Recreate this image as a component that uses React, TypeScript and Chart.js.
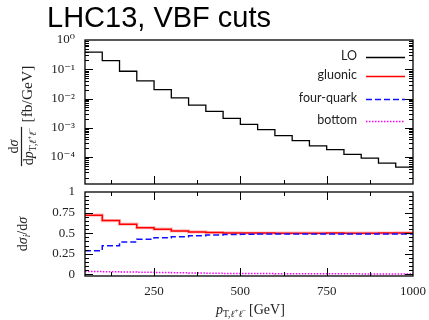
import React, { useEffect, useRef } from 'react';
import { Chart, registerables } from 'chart.js';

Chart.register(...registerables);

// ---------- data ----------
const titleText = 'LHC13, VBF cuts';
const binEdges = [50, 100, 150, 200, 250, 300, 350, 400, 450, 500, 550, 600, 650, 700, 750, 800, 850, 900, 950, 1000];
const loValues = [0.384, 0.198, 0.0855, 0.0398, 0.0200, 0.0106, 0.00597, 0.00363, 0.00209, 0.00130, 0.00087, 0.000543, 0.000366, 0.000240, 0.000180, 0.000124, 0.0000925, 0.0000624, 0.0000454];
const gluonicRatio = [0.719, 0.653, 0.609, 0.567, 0.548, 0.527, 0.515, 0.507, 0.503, 0.502, 0.501, 0.500, 0.500, 0.500, 0.501, 0.500, 0.500, 0.501, 0.503];
const fourQuarkRatio = [0.286, 0.347, 0.392, 0.425, 0.445, 0.457, 0.469, 0.478, 0.484, 0.487, 0.489, 0.490, 0.490, 0.491, 0.491, 0.490, 0.491, 0.490, 0.490];
const bottomRatio = [0.034, 0.032, 0.028, 0.025, 0.021, 0.018, 0.015, 0.013, 0.011, 0.010, 0.009, 0.008, 0.007, 0.007, 0.006, 0.006, 0.005, 0.005, 0.005];
const seriesNames = ['LO', 'gluonic', 'four-quark', 'bottom'];
const xTickLabels = [250, 500, 750, 1000];
const xMinorTicks = [125, 375, 625, 875];
const logTickValues = [1, 0.1, 0.01, 0.001, 0.0001];
const ratioTickLabels = [0, 0.25, 0.5, 0.75, 1];

// ---------- styling ----------
const SERIF = "'Liberation Serif', 'DejaVu Serif', serif";
const SANS = "'Liberation Sans', Arial, sans-serif";
const LEGEND_FONT = "12.5px Lato, 'Open Sans', sans-serif";
const TEXT = '#222';
const seriesStyles = [
  { color: '#000000', dash: [] as number[], width: 1.3 },
  { color: '#ff0000', dash: [] as number[], width: 1.5 },
  { color: '#1010ff', dash: [6, 3], width: 1.5 },
  { color: '#ff00ff', dash: [1.5, 1.5], width: 1.5 },
];

const steps = (vals: number[]) =>
  binEdges.map((e, i) => ({ x: e, y: vals[Math.min(i, vals.length - 1)] }));

const SUP: Record<string, string> = { '-': '⁻', '0': '⁰', '1': '¹', '2': '²', '3': '³', '4': '⁴', '5': '⁵', '6': '⁶', '7': '⁷', '8': '⁸', '9': '⁹' };
const sup = (n: number) => String(n).split('').map((c) => SUP[c] || c).join('');

type Run = { t: string; f: string; dy?: number };
function runsWidth(ctx: CanvasRenderingContext2D, runs: Run[]) {
  let w = 0;
  for (const r of runs) { ctx.font = r.f; w += ctx.measureText(r.t).width; }
  return w;
}
function drawRuns(ctx: CanvasRenderingContext2D, runs: Run[], x: number, y: number) {
  let cx = x;
  for (const r of runs) {
    ctx.font = r.f;
    ctx.fillText(r.t, cx, y + (r.dy || 0));
    cx += ctx.measureText(r.t).width;
  }
}
const f = (size: number, italic = false) => `${italic ? 'italic ' : ''}${size}px ${SERIF}`;

type TickSpec = { v: number; len: number };
function drawFrameTicks(chart: any, xt: TickSpec[], yt: TickSpec[], xBottom: boolean, xTop: boolean) {
  const { ctx, chartArea: a, scales } = chart;
  ctx.save();
  ctx.strokeStyle = '#000';
  ctx.lineWidth = 1;
  ctx.beginPath();
  for (const t of xt) {
    const px = Math.round(scales.x.getPixelForValue(t.v)) + 0.5;
    if (px <= a.left + 1 || px >= a.right - 1) continue;
    if (xBottom) { ctx.moveTo(px, a.bottom); ctx.lineTo(px, a.bottom - t.len); }
    if (xTop) { ctx.moveTo(px, a.top); ctx.lineTo(px, a.top + t.len); }
  }
  for (const t of yt) {
    const py = Math.round(scales.y.getPixelForValue(t.v)) + 0.5;
    if (py <= a.top + 1 || py >= a.bottom - 1) continue;
    ctx.moveTo(a.left, py); ctx.lineTo(a.left + t.len, py);
    ctx.moveTo(a.right, py); ctx.lineTo(a.right - t.len, py);
  }
  ctx.stroke();
  ctx.lineWidth = 1.3;
  ctx.strokeRect(a.left, a.top, a.width, a.height);
  ctx.restore();
}

const xTickSpecs: TickSpec[] = [
  ...xTickLabels.map((v) => ({ v, len: 8 })),
  ...xMinorTicks.map((v) => ({ v, len: 4 })),
];

const noPad = (s: any) => { s.paddingTop = 0; s.paddingBottom = 0; s.paddingLeft = 0; s.paddingRight = 0; };

const upperDecor = {
  id: 'upperDecor',
  afterDraw(chart: any) {
    const ctx: CanvasRenderingContext2D = chart.ctx;
    const yt: TickSpec[] = [];
    for (let e = -5; e <= 0; e++) {
      yt.push({ v: Math.pow(10, e), len: 8 });
      for (let k = 2; k <= 9; k++) yt.push({ v: k * Math.pow(10, e), len: 4 });
    }
    drawFrameTicks(chart, xTickSpecs, yt, true, false);

    ctx.save();
    // title
    ctx.fillStyle = '#000';
    ctx.font = `29px ${SANS}`;
    ctx.textAlign = 'left';
    ctx.textBaseline = 'alphabetic';
    ctx.fillText(titleText, 47, 27);

    // legend
    const ly = [55.5, 75, 97.5, 119.5];
    seriesNames.forEach((name, i) => {
      const s = seriesStyles[i];
      ctx.font = LEGEND_FONT;
      ctx.fillStyle = TEXT;
      ctx.textAlign = 'right';
      ctx.textBaseline = 'middle';
      ctx.fillText(name, 357, ly[i]);
      ctx.beginPath();
      ctx.strokeStyle = s.color;
      ctx.lineWidth = s.width;
      ctx.setLineDash(s.dash);
      ctx.moveTo(366, Math.round(ly[i] + 1) + 0.5);
      ctx.lineTo(405, Math.round(ly[i] + 1) + 0.5);
      ctx.stroke();
      ctx.setLineDash([]);
    });

    // y title
    ctx.translate(21.5, 146.5);
    ctx.rotate(-Math.PI / 2);
    ctx.fillStyle = TEXT;
    ctx.textAlign = 'left';
    ctx.textBaseline = 'alphabetic';
    const num: Run[] = [{ t: 'd', f: f(14) }, { t: 'σ', f: f(14, true) }];
    const den: Run[] = [
      { t: 'd', f: f(14) }, { t: 'p', f: f(14, true) },
      { t: 'T,', f: f(9.5), dy: 3 }, { t: 'ℓ', f: f(9.5, true), dy: 3 }, { t: '+', f: f(7), dy: -1 },
      { t: 'ℓ', f: f(9.5, true), dy: 3 }, { t: '−', f: f(7), dy: -1 },
    ];
    const wn = runsWidth(ctx, num);
    const wd = runsWidth(ctx, den);
    const bar = Math.max(wn, wd) + 2;
    drawRuns(ctx, num, -wn / 2, -4);
    ctx.fillRect(-bar / 2, -0.6, bar, 1.2);
    drawRuns(ctx, den, -wd / 2, 11.5);
    drawRuns(ctx, [{ t: '[fb/GeV]', f: f(15.5) }], 24, 10);
    ctx.restore();
  },
};

const lowerDecor = {
  id: 'lowerDecor',
  afterDraw(chart: any) {
    const ctx: CanvasRenderingContext2D = chart.ctx;
    const yt: TickSpec[] = [];
    for (let k = 0; k <= 20; k++) yt.push({ v: k * 0.05, len: k % 5 === 0 ? 8 : 4 });
    drawFrameTicks(chart, xTickSpecs, yt, true, true);

    ctx.save();
    ctx.fillStyle = TEXT;
    ctx.textAlign = 'left';
    ctx.textBaseline = 'alphabetic';
    // x title
    const xt: Run[] = [
      { t: 'p', f: f(14, true) },
      { t: 'T,', f: f(9.5), dy: 3 }, { t: 'ℓ', f: f(9.5, true), dy: 3 }, { t: '+', f: f(7), dy: -1 },
      { t: 'ℓ', f: f(9.5, true), dy: 3 }, { t: '−', f: f(7), dy: -1 },
      { t: '\u2009[GeV]', f: f(14) },
    ];
    drawRuns(ctx, xt, 216, 127.5);
    // y title
    ctx.translate(22, 234 - 186);
    ctx.rotate(-Math.PI / 2);
    const yr: Run[] = [
      { t: 'd', f: f(14) }, { t: 'σ', f: f(14, true) }, { t: 'i', f: f(9.5, true), dy: 3 },
      { t: '/d', f: f(14) }, { t: 'σ', f: f(14, true) },
    ];
    const wy = runsWidth(ctx, yr);
    drawRuns(ctx, yr, -wy / 2, 4.5);
    ctx.restore();
  },
};

const tickFont = { family: SERIF, size: 13 };

export default function App() {
  const upRef = useRef<HTMLCanvasElement>(null);
  const loRef = useRef<HTMLCanvasElement>(null);

  useEffect(() => {
    const up = new Chart(upRef.current!, {
      type: 'line',
      data: {
        datasets: [
          {
            label: seriesNames[0],
            data: steps(loValues),
            stepped: 'before',
            borderColor: seriesStyles[0].color,
            borderWidth: seriesStyles[0].width,
            pointRadius: 0,
            fill: false,
          },
        ],
      },
      options: {
        animation: false,
        responsive: false,
        layout: { padding: { left: 0, right: 16, top: 40, bottom: 4 } },
        plugins: { legend: { display: false }, tooltip: { enabled: false }, title: { display: false } },
        scales: {
          x: { type: 'linear', min: 50, max: 1000, display: false },
          y: {
            type: 'logarithmic',
            min: 1.2e-5,
            max: 1,
            afterBuildTicks: (s: any) => { s.ticks = logTickValues.map((value) => ({ value })); },
            afterFit: (s: any) => { s.width = 85; noPad(s); },
            ticks: {
              autoSkip: false,
              padding: 10,
              font: tickFont,
              color: TEXT,
              callback: (v: any) => '10' + sup(Math.round(Math.log10(Number(v)))),
            },
            grid: { display: false, drawTicks: false },
            border: { display: false },
          },
        },
      },
      plugins: [upperDecor],
    } as any);

    const lineDs = (label: string, vals: number[], i: number, extra: any = {}) => ({
      label,
      data: steps(vals),
      stepped: 'before',
      borderColor: seriesStyles[i].color,
      borderWidth: seriesStyles[i].width,
      borderDash: seriesStyles[i].dash,
      pointRadius: 0,
      fill: false,
      ...extra,
    });

    const lo = new Chart(loRef.current!, {
      type: 'line',
      data: {
        datasets: [
          lineDs(seriesNames[3], bottomRatio, 3),
          lineDs(seriesNames[2], fourQuarkRatio, 2),
          lineDs(seriesNames[1], gluonicRatio, 1),
          lineDs(seriesNames[1] + ' band', gluonicRatio, 1, { borderColor: 'rgba(255,0,0,0.25)', borderWidth: 3.2 }),
        ],
      },
      options: {
        animation: false,
        responsive: false,
        layout: { padding: { left: 0, right: 16, top: 6, bottom: 0 } },
        plugins: { legend: { display: false }, tooltip: { enabled: false }, title: { display: false } },
        scales: {
          x: {
            type: 'linear',
            min: 50,
            max: 1000,
            afterBuildTicks: (s: any) => { s.ticks = xTickLabels.map((value) => ({ value })); },
            afterFit: (s: any) => { s.height = 44; noPad(s); },
            ticks: { autoSkip: false, maxRotation: 0, padding: 8, font: tickFont, color: TEXT, callback: (v: any) => String(v) },
            grid: { display: false, drawTicks: false },
            border: { display: false },
          },
          y: {
            type: 'linear',
            min: -0.02,
            max: 1,
            afterBuildTicks: (s: any) => { s.ticks = ratioTickLabels.map((value) => ({ value })); },
            afterFit: (s: any) => { s.width = 85; noPad(s); },
            ticks: { autoSkip: false, padding: 10, font: tickFont, color: TEXT, callback: (v: any) => String(v) },
            grid: { display: false, drawTicks: false },
            border: { display: false },
          },
        },
      },
      plugins: [lowerDecor],
    } as any);

    return () => { up.destroy(); lo.destroy(); };
  }, []);

  return (
    <div style={{ position: 'fixed', left: 0, top: 0, width: 429, height: 320, background: '#fff' }}>
      <canvas ref={upRef} width={429} height={188} style={{ position: 'absolute', left: 0, top: 0, width: 429, height: 188 }} />
      <canvas ref={loRef} width={429} height={134} style={{ position: 'absolute', left: 0, top: 186, width: 429, height: 134 }} />
    </div>
  );
}
